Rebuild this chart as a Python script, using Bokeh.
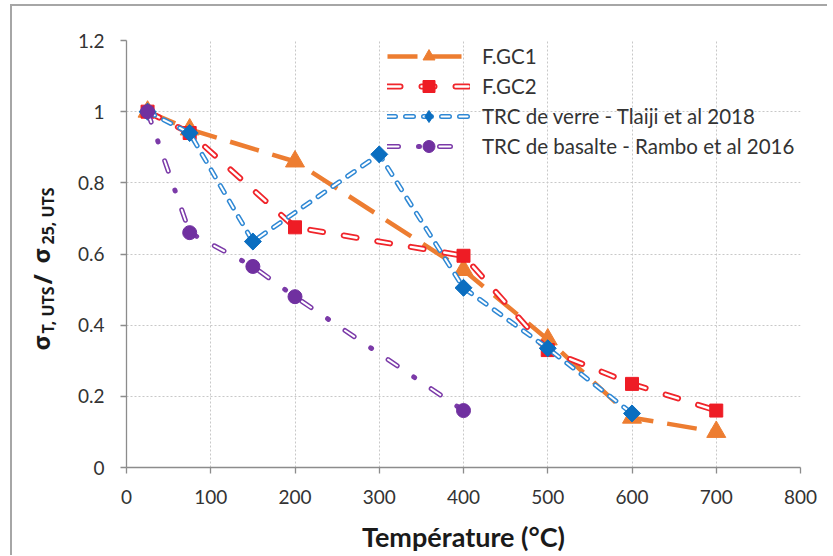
import math
from bokeh.plotting import figure
from bokeh.layouts import row
from bokeh.models import (Legend, LegendItem, Label, FixedTicker,
                          CustomJSTickFormatter, Range1d)
from bokeh.embed import file_html
from bokeh.resources import INLINE

# ---- data ----
temp_gc1 = [25, 75, 200, 400, 500, 600, 700]
gc1 = [1.0, 0.95, 0.86, 0.555, 0.36, 0.14, 0.10]

temp_gc2 = [25, 75, 200, 400, 500, 600, 700]
gc2 = [1.0, 0.94, 0.675, 0.595, 0.33, 0.235, 0.16]

temp_verre = [25, 75, 150, 300, 400, 500, 600]
verre = [1.0, 0.94, 0.635, 0.88, 0.505, 0.335, 0.152]

temp_basalte = [25, 75, 150, 200, 400]
basalte = [1.0, 0.66, 0.565, 0.48, 0.16]

series_labels = ["F.GC1", "F.GC2", "TRC de verre - Tlaiji et al 2018",
                 "TRC de basalte - Rambo et al 2016"]
x_ticks = [0, 100, 200, 300, 400, 500, 600, 700, 800]
y_ticks = [0, 0.2, 0.4, 0.6, 0.8, 1.0, 1.2]

FONT = "Lato"
H = 549

# ---- narrow figure that carries the rotated y-axis title ----
lab = figure(width=62, height=H, output_backend="svg", toolbar_location=None,
             x_range=Range1d(0, 1), y_range=Range1d(0, 1),
             x_axis_type=None, y_axis_type=None, min_border=0)
lab.outline_line_color = None
lab.background_fill_color = "white"
lab.border_fill_color = "white"
lab.scatter([], [])

def ylab(text, x, y, size, font="Noto Sans"):
    lab.add_layout(Label(text=text, x=x, y=y, x_units="screen", y_units="screen",
                         angle=math.pi / 2, text_font=font, text_font_style="bold",
                         text_font_size=size, text_color="#1a1a1a",
                         text_align="left", text_baseline="alphabetic"))

ylab("σ", 28, 117, "24px")
ylab("T, UTS", 35, 134, "16px")
ylab("/", 29, 183, "25px")
ylab("σ", 28, 204, "24px")
ylab("25, UTS", 35, 223, "16px")

# ---- main chart ----
p = figure(width=753, height=H, output_backend="svg", toolbar_location=None,
           x_range=Range1d(0, 800), y_range=Range1d(0, 1.2),
           min_border_left=52, min_border_right=27,
           min_border_top=34, min_border_bottom=80)
p.outline_line_color = None
p.background_fill_color = "white"
p.border_fill_color = "white"

for ax in (p.xaxis[0], p.yaxis[0]):
    ax.axis_line_color = "#8c8c8c"
    ax.axis_line_width = 1.3
    ax.major_tick_line_color = "#8c8c8c"
    ax.major_tick_line_width = 1.3
    ax.major_tick_out = 6
    ax.major_tick_in = 0
    ax.minor_tick_line_color = None
    ax.major_label_text_font = FONT
    ax.major_label_text_font_size = "19px"
    ax.major_label_text_color = "#333333"

p.xaxis.ticker = FixedTicker(ticks=x_ticks)
p.yaxis.ticker = FixedTicker(ticks=y_ticks)
p.yaxis.formatter = CustomJSTickFormatter(code="return String(Math.round(tick*10)/10)")
p.xaxis.major_label_standoff = 16
p.yaxis.major_label_standoff = 16

p.xaxis.axis_label = "Température (°C)"
p.xaxis.axis_label_text_font = FONT
p.xaxis.axis_label_text_font_style = "bold"
p.xaxis.axis_label_text_font_size = "27px"
p.xaxis.axis_label_text_color = "#1a1a1a"
p.xaxis.axis_label_standoff = 13

for g in (p.xgrid[0], p.ygrid[0]):
    g.grid_line_color = "#c8c8c8"
    g.grid_line_dash = "2 2"
    g.grid_line_width = 1

# ---- series ----
o_line = p.line(temp_gc1, gc1, line_color="#ED7D31", line_width=4.5,
                line_dash="30 14", line_cap="butt", line_join="round")
o_mark = p.scatter(temp_gc1, gc1, marker="triangle", size=19,
                   fill_color="#ED7D31", line_color="#ED7D31")

r_line = p.line(temp_gc2, gc2, line_color="#F0252B", line_width=6,
                line_dash="13 21", line_cap="round", line_join="round")
r_in = p.line(temp_gc2, gc2, line_color="white", line_width=2.4,
              line_dash="13 21", line_cap="round", line_join="round")
r_mark = p.scatter(temp_gc2, gc2, marker="square", size=13,
                   fill_color="#EE1C25", line_color="#EE1C25")

b_line = p.line(temp_verre, verre, line_color="#2F88D4", line_width=5,
                line_dash="8 10", line_cap="round", line_join="round")
b_in = p.line(temp_verre, verre, line_color="white", line_width=2,
              line_dash="8 10", line_cap="round", line_join="round")
b_mark = p.scatter(temp_verre, verre, marker="square", size=12, angle=math.pi / 4,
                   fill_color="#0B6EC0", line_color="#0B6EC0")
# diamond drawn inside the rotated square (serves as the legend swatch)
b_key = p.scatter(temp_verre, verre, marker="diamond", size=16,
                  fill_color="#0B6EC0", line_color="#0B6EC0")

v_line = p.line(temp_basalte, basalte, line_color="#7B3AA8", line_width=5,
                line_dash="11 20 1 20", line_cap="round", line_join="round")
v_in = p.line(temp_basalte, basalte, line_color="white", line_width=2,
              line_dash="11 41", line_cap="round", line_join="round")
v_mark = p.scatter(temp_basalte, basalte, marker="circle", size=14,
                   fill_color="#7030A0", line_color="#7030A0")

legend = Legend(items=[
    LegendItem(label=series_labels[0], renderers=[o_line, o_mark]),
    LegendItem(label=series_labels[1], renderers=[r_line, r_in, r_mark]),
    LegendItem(label=series_labels[2], renderers=[b_line, b_in, b_key]),
    LegendItem(label=series_labels[3], renderers=[v_line, v_in, v_mark]),
], location=(261, 306))
legend.background_fill_alpha = 0
legend.border_line_color = None
legend.padding = 0
legend.margin = 0
legend.spacing = 0
legend.glyph_width = 83
legend.glyph_height = 30
legend.label_height = 30
legend.label_standoff = 12
legend.label_text_font = FONT
legend.label_text_font_size = "20.5px"
legend.label_text_color = "#333333"
legend.label_text_baseline = "middle"
p.add_layout(legend, "center")

layout = row(lab, p, spacing=0)
layout.styles = {"margin-left": "10px", "margin-top": "4px",
                 "border-left": "2px solid #a6a6a6", "border-top": "2px solid #a6a6a6"}

open("out.html", "w").write(file_html(layout, INLINE))
